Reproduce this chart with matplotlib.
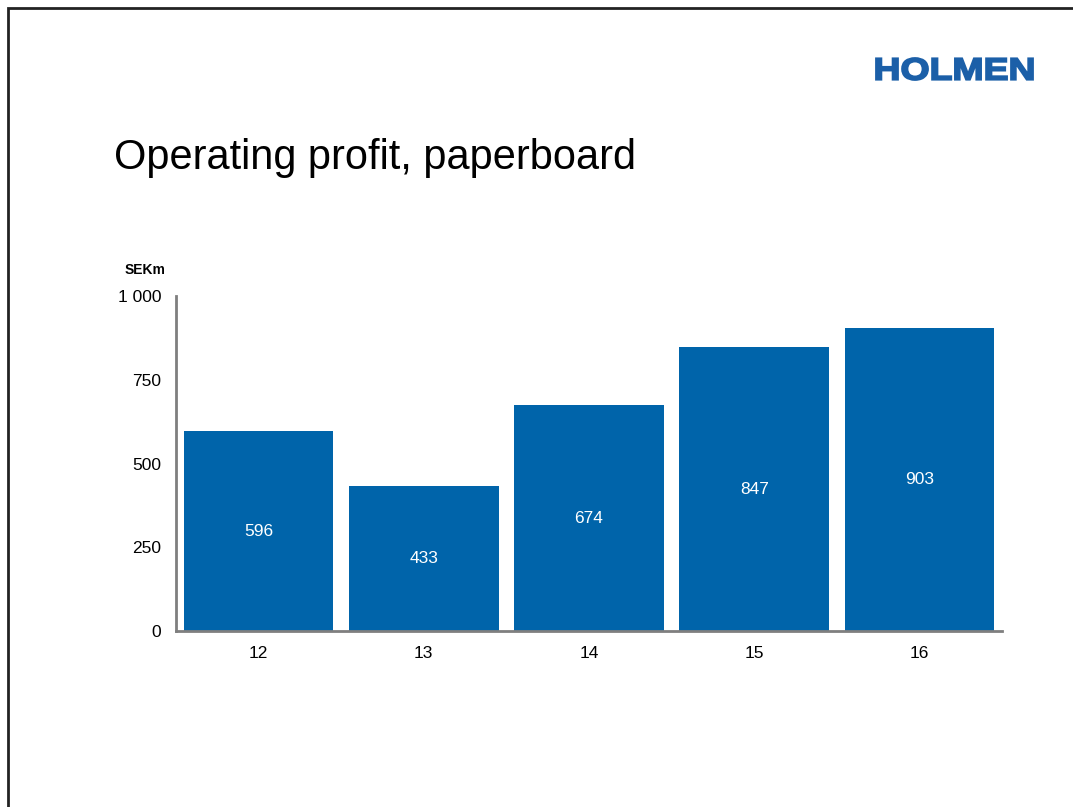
import matplotlib.pyplot as plt
from matplotlib.patches import Rectangle, PathPatch
from matplotlib.textpath import TextPath
from matplotlib.font_manager import FontProperties
from matplotlib.transforms import Affine2D

plt.rcParams['font.family'] = ['Liberation Sans', 'DejaVu Sans']

# Operating profit per year, SEKm
years = ['12', '13', '14', '15', '16']
profit = [596, 433, 674, 847, 903]
yticks = [0, 250, 500, 750, 1000]
ytick_labels = ['0', '250', '500', '750', '1 000']

bar_color = '#0064AA'
logo_color = '#1B5FA8'
spine_color = '#7F7F7F'

W, H = 1073, 807
fig = plt.figure(figsize=(W / 100, H / 100), dpi=100)

# slide frame (only top and left edges are inside the picture)
fig.patches.append(Rectangle((8 / W, -0.1), 1.2, 1 - 8 / H + 0.1,
                             transform=fig.transFigure, fill=False,
                             edgecolor='#222222', linewidth=2))

fig.text(114 / W, 1 - 158 / H, 'Operating profit, paperboard',
         fontsize=29.9, ha='left', va='center', color='black')

# wide, heavy logo text: build a path and stretch it into its box
logo = TextPath((0, 0), 'HOLMEN', size=10,
                prop=FontProperties(family='Liberation Sans', weight='bold'))
ext = logo.get_extents()
box_x0, box_x1 = 876 / W, 1033 / W
box_y0, box_y1 = 1 - 80 / H, 1 - 58 / H
sx = (box_x1 - box_x0) / ext.width
sy = (box_y1 - box_y0) / ext.height
tr = Affine2D().translate(-ext.x0, -ext.y0).scale(sx, sy).translate(box_x0, box_y0)
fig.patches.append(PathPatch(logo, transform=tr + fig.transFigure,
                             facecolor=logo_color, edgecolor=logo_color,
                             linewidth=1.3))

ax = fig.add_axes([176 / W, 1 - 631 / H, 826 / W, 335 / H])
x = range(len(years))
bars = ax.bar(x, profit, width=0.905, color=bar_color)

for b, v in zip(bars, profit):
    ax.text(b.get_x() + b.get_width() / 2, v / 2, str(v), color='white',
            ha='center', va='center', fontsize=12.5)

ax.set_xlim(-0.5, len(years) - 0.5)
ax.set_ylim(0, 1000)
ax.set_xticks(list(x))
ax.set_xticklabels(years)
ax.set_yticks(yticks)
ax.set_yticklabels(ytick_labels)
ax.tick_params(length=0, labelsize=12.5)
ax.tick_params(axis='y', pad=10.5)
ax.tick_params(axis='x', pad=10.5)

for side in ['top', 'right']:
    ax.spines[side].set_visible(False)
for side in ['left', 'bottom']:
    ax.spines[side].set_color(spine_color)
    ax.spines[side].set_linewidth(2)

fig.text(125 / W, 1 - 270 / H, 'SEKm', fontsize=10, fontweight='bold',
         ha='left', va='center')

fig.savefig('out.png', dpi=100)
